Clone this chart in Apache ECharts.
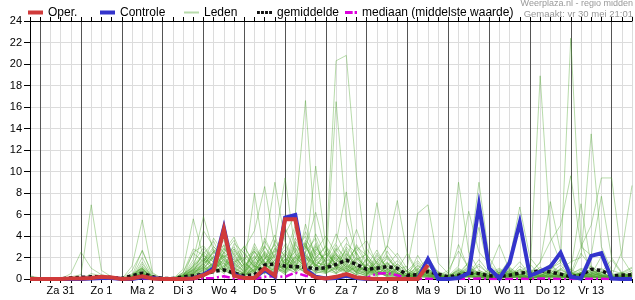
<!DOCTYPE html>
<html><head><meta charset="utf-8">
<script src="https://cdn.jsdelivr.net/npm/echarts@6/dist/echarts.min.js"></script>
<style>html,body{margin:0;padding:0;background:#fff}#c{width:635px;height:300px}</style>
</head><body><div id="c"></div>
<script>
// time axis: hours since 30 mei 00:00, one value every 6 hours
const startHour = 18;
const stepHours = 6;
const endHour = 372;
const dayLabels = ['Za 31','Zo 1','Ma 2','Di 3','Wo 4','Do 5','Vr 6','Za 7','Zo 8','Ma 9','Di 10','Wo 11','Do 12','Vr 13'];
const firstLabelHour = 36;

const oper = [0, 0,0,0,0.05, 0.05,0.1,0.2,0.15, 0,0.05,0.25,0.05, 0,0,0,0.05, 0.35,0.8,4.6,0.3, 0.1,0.1,1.0,0.3, 5.55,5.55,0.7,0.15, 0.05,0.2,0.45,0.15, 0.05,0,0,0, 0,0,1.3,null, null,null,null,null, null,null,null,null, null,null,null,null, null,null,null,null, null,null,null];
const controle = [0, 0,0,0,0, 0,0.05,0.1,0.1, 0,0,0.15,0.1, 0,0,0,0.05, 0.4,1.0,4.75,0.4, 0.1,0.1,0.85,0.2, 5.7,5.95,0.9,0.2, 0.05,0.1,0.3,0.1, 0,0,0,0, 0,0,1.85,0, 0,0.1,0.55,6.85, 1.0,0.05,1.5,5.25, 0.3,0.7,1.15,2.45, 0.2,0.05,2.15,2.4, 0.05,0,0];
const gemiddelde = [0.05, 0.02,0.02,0.02,0.1, 0.15,0.2,0.2,0.15, 0.05,0.3,0.55,0.2, 0.05,0.05,0.2,0.3, 0.45,0.7,0.85,0.55, 0.3,0.4,1.3,1.4, 1.2,1.15,1.1,0.95, 1.05,1.35,1.75,1.35, 0.9,1.0,1.15,1.0, 0.35,0.4,0.7,0.45, 0.2,0.35,0.55,0.5, 0.3,0.25,0.35,0.55, 0.6,0.8,0.65,0.45, 0.2,0.35,0.9,0.8, 0.3,0.35,0.4];
const mediaan = [0, 0,0,0,0, 0,0,0,0, 0,0,0.02,0, 0,0,0,0, 0.05,0.1,0.25,0.05, 0,0,0.2,0.25, 0.2,0.6,0.3,0.15, 0.1,0.2,0.5,0.2, 0.1,0.5,0.55,0.35, 0.05,0,0.02,0, 0,0,0.02,0.05, 0,0,0,0.02, 0,0.05,0.02,0, 0,0,0.03,0.02, 0,0,0];

const leden01 = [0, 0,0,0,0, 0,0,0.1,0, 0,0,0.3,0, 0,0,0,0.4, 0.8,1.5,2.2,0.6, 0.3,1.2,2.5,1.1, 0.4,2.0,3.1,1.2, 2.4,20.3,20.8,9.6, 2.0,0.5,2.1,0.8, 0.2,0.6,0.3,0, 0,0.4,1.2,0.3, 0.1,0,0.5,0.2, 0,0.3,0.8,0.2, 0,0.6,0.4,0.1, 0,0.2,0.3];
const leden02 = [0, 0,0,0,0, 0,0.2,0,0, 0,0.5,1.0,0.1, 0,0,0.2,0.8, 1.6,2.5,1.8,0.9, 0.5,3.0,1.5,2.2, 4.2,6.0,16.6,3.5, 1.0,2.2,1.5,0.6, 0.3,0.8,0.2,0, 0,0.3,0.9,0.4, 0,0,0.2,0.6, 0.3,0,0,0.4, 0.9,0.2,0,0, 0.3,0.5,0.1,0, 0,0,0.4];
const leden03 = [0, 0,0,0,0, 0,0,0.3,0.1, 0,0.2,0.6,0, 0,0,0.4,1.2, 2.0,1.1,0.8,0.3, 0.6,1.8,3.5,2.0, 1.0,2.6,4.0,1.5, 1.3,16.5,5.5,2.2, 0.8,1.5,0.6,0.2, 0,0.5,0.2,0, 0.2,1.0,0.4,0, 0,0.3,0.8,0.2, 0,0.1,0.5,1.3, 0.2,0,0.3,0.6, 0.2,0,0];
const leden04 = [0, 0,0,0,0, 0,0,0,0.1, 0,0.3,0.4,0, 0,0,0,0.6, 1.2,2.6,3.1,1.0, 0.5,0.8,1.9,3.2, 2.1,1.0,2.5,3.8, 1.4,0.9,2.3,1.5, 0.6,1.2,0.4,0.1, 0,0.2,0.6,0.3, 0,0.2,0.6,0.4, 0.1,0,0.3,0.9, 0.6,0.3,1.0,1.5, 22.4,3.5,0.5,0.3, 0.1,0.4,0.8];
const leden05 = [0, 0,0,0,0, 0,0,0,0, 0,0.1,0.5,0, 0,0,0.3,0.5, 0.9,1.4,2.0,2.8, 1.2,0.6,2.3,1.0, 0.7,3.2,2.0,1.1, 0.8,1.6,3.3,2.4, 1.1,0.5,1.5,0.6, 0.2,0.8,0.3,0.1, 0,0.6,0.3,0.2, 0.5,1.0,0.4,0.2, 0.3,18.9,4.0,1.5, 0.6,0.2,0.8,0.4, 0,0.3,0.2];
const leden06 = [0, 0,0,0,0, 0,0,0,0, 0,0,0.3,0, 0,0,0,0.3, 0.6,1.0,1.5,0.5, 0.2,1.4,0.7,2.8, 1.5,0.8,1.8,4.2, 2.2,1.0,0.6,1.8, 0.9,0.3,1.2,0.5, 0,0.4,1.0,0.2, 0,0.3,0.2,0.8, 0.4,0,0.2,1.2, 0.5,0.2,0.4,0.9, 1.6,2.0,13.5,3.0, 0.8,0.5,1.0];
const leden07 = [0, 0,0,0,0, 0,0,0.1,0, 0,0.2,0.9,0.1, 0,0,0.3,0.9, 1.9,0.8,2.4,1.3, 0.7,2.6,1.4,0.5, 1.9,1.2,3.3,0.9, 0.6,2.8,1.2,0.7, 1.8,0.6,0.4,1.1, 0.3,0.2,0.7,0.4, 0.2,0.8,0.3,0.1, 0.3,0.6,1.1,0.4, 0.2,0.5,0.9,1.8, 0.5,3.0,5.0,9.4, 9.4,2.0,0.5];
const leden08 = [0, 0,0,0,0, 0,0,0,0, 0,0.2,0.8,0, 0,0,0.2,0.7, 1.0,2.2,0.9,0.4, 0.3,0.7,1.6,0.5, 2.4,1.3,0.6,2.0, 3.0,1.2,0.8,0.4, 1.5,0.6,0.3,0.1, 0.2,1.3,0.5,0.2, 0.6,9.0,2.5,0.8, 0.3,0.1,0.4,0.2, 0.9,0.5,0.2,0.1, 0.2,0.6,0.4,1.0, 0.3,2.5,8.7];
const leden09 = [0, 0,0,0,0, 0,0,0,0, 0,0,0.4,0.1, 0,0,0,0.2, 0.5,0.9,2.5,1.8, 0.6,2.2,1.3,0.8, 1.2,3.5,2.4,10.5, 3.0,1.1,0.7,2.5, 0.6,0.2,0.9,0.4, 0.1,0.3,0.8,0.2, 0,0.4,1.5,9.0, 2.0,0.4,0.2,0.5, 0.2,0.8,0.3,0.1, 0.4,1.0,0.6,0.2, 0,0.3,0.1];
const leden10 = [0, 0,0,0,0.2, 0.4,6.9,0.8,0.2, 0,0.1,0.6,0, 0,0,0.1,0.5, 1.1,0.6,1.9,0.8, 0.3,0.9,2.6,1.4, 0.8,1.9,4.4,2.2, 1.0,0.6,1.4,0.7, 0.3,1.7,0.8,0.2, 0,0.2,0.5,0.1, 0,0.1,0.3,0.2, 0,0.4,0.7,0.2, 0.1,0.3,0.6,0.2, 0,0.2,0.5,0.3, 0.1,0.2,0.1];
const leden11 = [0, 0,0,0,0.5, 2.5,1.0,0.4,0.2, 0,1.2,5.5,0.6, 0,0,0.4,1.0, 2.3,3.5,1.5,0.7, 0.4,1.2,0.8,3.6, 2.0,0.9,1.4,0.6, 0.7,2.6,3.9,1.3, 0.5,0.9,2.6,1.2, 0.3,0.5,1.2,0.3, 0.1,0.2,0.6,0.4, 0.2,0.1,0.3,0.7, 0.3,0.9,0.4,0.2, 0.3,0.6,0.3,0.1, 0,0.2,0.4];
const leden12 = [0.3, 0.1,0,0,0, 0,0.3,0.1,0, 0,0.3,2.7,0.3, 0,0,0.9,5.6, 2.0,1.1,3.2,1.5, 0.8,0.4,1.3,2.5, 4.8,2.4,1.0,0.5, 0.9,3.2,1.6,0.8, 0.4,1.2,3.1,2.0, 0.6,1.5,0.4,0.2, 0,0.6,0.2,0.1, 0.3,0.8,0.4,0.1, 0,0.4,1.1,0.5, 0.2,0.1,0.4,0.6, 0.2,0,0.3];
const leden13 = [0, 0,0,0,0, 0,0,0.2,0.1, 0,0.2,2.0,0.2, 0,0,0.3,1.8, 5.8,2.5,1.2,2.8, 1.5,0.6,3.8,1.9, 0.7,1.6,2.9,6.2, 2.5,1.4,0.9,1.9, 1.1,0.4,0.8,0.3, 0.2,0.6,1.8,0.4, 0.1,0.2,0.8,0.3, 0.2,0.5,0.2,0.6, 1.4,0.3,0.2,0.4, 0.6,0.3,0.2,0.1, 0,0.1,0.2];
const leden14 = [0, 0,0,0,0, 0,0,0.1,0, 0,0.1,1.6,0.1, 0,0,0.2,2.5, 3.1,1.8,0.6,1.2, 2.8,4.5,8.6,3.0, 1.2,0.8,2.2,1.4, 0.6,1.1,2.8,0.9, 0.4,2.2,1.0,0.5, 0.3,0.2,0.7,0.3, 0,0.4,0.9,0.5, 0.2,0.3,0.1,0.2, 0.5,0.2,0.8,0.3, 0.1,0.4,0.9,0.2, 0.1,0.3,0.5];
const leden15 = [0, 0,0,0,0, 0,0,0,0, 0,0,1.2,0.2, 0,0,0.5,1.1, 4.5,3.0,2.0,1.0, 0.5,1.5,2.9,9.0, 3.5,1.4,0.8,1.7, 2.3,1.5,0.6,1.2, 0.8,0.3,1.4,0.6, 0.1,0.4,0.2,0.1, 0.2,0.9,0.4,0.2, 0.6,0.2,0.4,0.9, 0.3,0.5,0.2,0.1, 0.2,0.6,1.2,0.4, 0.2,0.1,0.6];
const leden16 = [0, 0,0,0,0, 0,0.1,0,0, 0,0.4,1.0,0, 0,0,0.1,0.4, 1.5,3.8,2.4,3.6, 1.2,8.0,2.0,1.1, 0.6,3.4,1.5,0.9, 1.8,4.2,2.1,0.5, 2.8,1.5,0.6,0.3, 0,0.7,0.3,0.1, 0.1,0.3,0.2,0.7, 0.2,0.1,0.5,0.3, 0.1,0.2,0.4,0.8, 0.5,0.2,0.3,0.1, 0,0.4,0.2];
const leden17 = [0, 0,0,0,0, 0,0,0,0, 0,0,0.8,0, 0,0,0,0.3, 0.7,1.3,2.8,2.0, 1.1,2.5,1.2,3.4, 9.4,2.6,1.1,3.0, 1.6,0.8,1.7,2.9, 1.4,0.6,0.3,1.0, 0.4,0.1,0.6,0.2, 0,0.5,0.3,0.1, 0.3,0.7,0.2,0.4, 0.2,0.1,0.6,0.2, 0.3,0.2,0.5,0.7, 0.1,0.2,0.1];
const leden18 = [0, 0,0,0,0, 0,0,0,0, 0,0,0.6,0.1, 0,0,0.3,0.9, 1.8,0.8,1.0,3.3, 2.4,1.0,0.5,1.5, 3.2,1.2,2.4,1.0, 0.8,2.0,1.1,3.2, 1.6,7.1,2.0,0.9, 1.2,6.1,6.9,1.5, 0.5,0.2,0.4,0.3, 0.1,0.3,0.6,0.2, 0,0.2,0.3,0.6, 0.4,0.1,0.2,0.3, 0.2,0.5,0.3];
const leden19 = [0, 0,0,0,0, 0,0,0,0, 0,0,0.3,0, 0,0,0,0.5, 1.0,2.0,0.9,0.6, 1.4,0.8,2.0,0.9, 1.3,4.6,3.0,1.8, 0.9,1.5,2.4,1.0, 0.8,1.6,3.0,7.3, 2.2,0.5,0.3,0.6, 0.2,0.1,0.3,0.2, 0,0.3,0.7,0.2, 0.1,0.4,0.2,0.3, 0.2,0.6,0.2,0.1, 0,0.2,0.3];
const leden20 = [0, 0,0,0,0, 0,0,0,0, 0,0.1,0.9,0.2, 0,0,0.2,0.6, 2.6,1.5,3.9,2.2, 1.0,0.5,1.2,2.1, 1.5,0.9,3.6,2.5, 1.9,3.4,8.1,2.0, 1.0,0.4,1.2,0.8, 0.5,0.2,0.9,0.3, 0.8,2.6,1.0,0.3, 0.1,0.6,0.2,0.1, 0.3,0.7,0.3,0.2, 0.6,0.3,0.1,0.2, 0.3,0.6,0.2];
const leden21 = [0, 0,0,0,0, 0,0,0,0, 0,0,0.4,0, 0,0,0.1,0.3, 0.9,2.1,1.4,0.5, 0.3,1.0,2.4,1.2, 0.6,1.3,0.7,2.4, 1.2,0.6,1.5,3.0, 2.2,1.1,0.5,1.4, 0.6,0.3,1.3,0.7, 0.3,1.2,6.3,2.5, 1.4,0.5,1.8,6.7, 2.0,0.8,0.3,0.2, 0.5,0.9,0.4,0.2, 0.1,0.3,0.2];
const leden22 = [0, 0,0,0,0, 0,0,0,0, 0,0,0.5,0, 0,0,0.2,0.8, 1.3,0.7,2.2,1.6, 2.0,1.2,0.6,1.8, 2.7,1.5,3.0,1.2, 0.5,1.2,0.7,1.6, 0.6,2.4,1.0,0.3, 0.2,0.5,0.2,0.1, 0.2,0.4,0.3,0.6, 0.3,0.2,1.0,0.4, 0.6,1.5,7.2,2.5, 0.8,7.0,1.2,0.4, 0.3,0.6,0.3];
const leden23 = [0, 0,0,0,0, 0,0,0,0, 0,0,0.2,0, 0,0,0,0.2, 0.4,1.0,1.8,0.7, 0.4,2.0,1.1,0.6, 1.8,0.7,1.6,3.1, 1.4,0.5,1.0,0.6, 1.3,0.7,0.2,0.5, 0.2,0.1,0.4,0.2, 0.1,0.2,0.5,1.4, 0.4,0.2,0.3,0.8, 0.4,1.6,3.5,5.0, 9.6,3.0,2.2,7.7, 2.0,0.6,1.1];
const leden24 = [0, 0,0,0,0, 0,0,0,0, 0,0.2,1.0,0.1, 0,0,0.6,2.8, 2.2,1.6,0.7,1.4, 3.1,1.2,0.9,0.5, 1.1,2.9,1.3,0.7, 0.5,1.0,1.9,4.6, 2.0,0.8,0.4,0.9, 2.4,0.7,0.3,0.1, 0.4,3.2,0.9,4.8, 0.7,0.2,0.1,0.3, 0.2,0.1,0.2,0.9, 0.3,2.4,1.1,0.2, 0.1,0.3,0.6];
const leden25 = [0.2, 0,0,0,0, 0,0.5,0.3,0, 0,0.8,2.6,0.5, 0,0,0.6,2.4, 1.6,2.8,0.8,0.4, 0.6,1.6,0.9,2.3, 1.1,0.6,2.0,1.3, 0.9,2.2,1.3,0.7, 1.9,0.9,1.6,0.4, 0.3,0.9,2.0,0.6, 0.2,0.1,0.6,1.2, 0.5,0.2,0.9,0.4, 0.2,0.1,0.3,0.5, 0.2,0.3,0.7,0.3, 0.1,0.2,0.4];
const leden26 = [0, 0,0,0,0, 0,0,0,0, 0,0,0.7,0, 0,0,0,1.2, 2.2,1.2,0.5,1.9, 0.9,2.8,1.6,0.8, 2.2,5.0,2.0,0.7, 1.1,2.0,0.6,1.1, 0.4,1.0,1.9,0.9, 0.1,0.3,0.1,0, 0,0.3,0.8,0.3, 0.9,3.2,0.8,0.2, 0.1,0.3,0.2,0.4, 0.3,0.1,0.2,0.6, 1.8,0.5,0.2];
const leden27 = [0, 0,0,0,0, 0,0.2,0.1,0, 0,0,0.5,0.1, 0,0,0.4,0.8, 1.4,2.4,3.6,1.1, 0.6,0.3,0.9,1.6, 0.8,2.1,1.0,2.6, 4.0,2.3,1.0,0.4, 0.2,0.6,0.3,0.8, 0.2,2.2,0.6,0.2, 0.3,0.6,0.2,0.1, 0.2,0.1,0.6,0.3, 0.8,0.3,0.9,2.3, 0.6,0.2,0.4,2.1, 0.5,0.3,0.2];
const leden28 = [0, 0,0,0,0, 0,0,0,0, 0,0,0.2,0, 0,0,0,0.1, 0.3,0.7,1.2,0.4, 0.2,0.9,0.5,1.0, 0.5,1.2,0.6,1.4, 0.8,0.5,1.2,0.6, 0.3,0.8,0.4,0.2, 0,0.2,0.1,0, 0,0.1,0.2,0.1, 0,0.2,0.1,0.3, 0.1,0.2,0.1,0.2, 0.1,0.3,0.1,0.2, 0,0.1,0.1];
const leden29 = [0, 0,0,0,0, 0,0,0,0, 0,0,1.4,0.2, 0,0,0.1,0.6, 1.1,0.5,2.6,3.9, 1.7,0.6,1.8,4.1, 1.0,0.6,1.2,0.6, 2.0,1.0,0.4,1.5, 0.5,1.2,0.6,0.2, 0.5,1.0,0.4,0.1, 0.2,0.4,1.1,0.5, 0.3,0.6,0.3,0.1, 0.2,0.5,1.3,0.6, 0.3,0.2,0.1,0.3, 0.2,0.1,0.4];
const leden30 = [0, 0,0,0,0, 0,0,0,0, 0,0,0.3,0, 0,0,0,0.2, 0.6,1.6,0.7,2.4, 0.8,3.3,1.4,0.7, 1.6,0.8,5.1,2.0, 0.6,1.8,0.9,0.4, 0.8,0.4,0.6,1.4, 0.6,0.2,0.3,0.1, 0,0.2,0.4,0.2, 0.1,0.3,0.5,0.2, 0.1,0.2,0.1,0.3, 0.2,0.4,0.2,0.1, 0.1,0.2,0.1];
const leden31 = [0, 0,0,0,0, 0,0,0,0, 0,0.3,1.1,0.2, 0,0,0.3,1.5, 2.9,1.7,0.9,2.6, 1.3,2.1,0.6,1.8, 0.9,1.7,3.3,1.1, 2.6,1.2,2.0,0.8, 1.2,2.7,0.9,0.5, 0.3,0.9,0.4,0.2, 0.1,0.5,1.6,0.4, 0.2,0.9,0.3,0.1, 0.2,0.6,1.4,0.3, 0.1,0.2,0.6,0.3, 0.2,0.1,0.3];
const leden32 = [0, 0,0,0,0, 0,0,0.2,0, 0,0,0.9,0, 0,0,0.2,0.9, 1.7,3.0,2.1,0.9, 2.5,1.1,3.0,1.7, 0.6,2.3,1.4,3.3, 1.0,2.4,1.5,2.6, 3.6,1.3,0.7,0.4, 0.8,1.7,0.6,0.3, 0.2,0.3,0.5,1.8, 0.6,0.3,0.1,0.2, 0.4,0.2,0.6,0.3, 0.9,0.3,0.2,0.4, 0.1,0.5,0.2];
const leden33 = [0, 0,0,0,0, 0,0,0,0, 0,0,0.5,0, 0,0,0.1,0.7, 1.2,2.6,2.0,3.0, 1.6,0.7,1.9,2.6, 1.4,3.8,2.2,1.3, 0.7,2.9,2.0,1.1, 0.6,1.9,1.2,2.4, 0.9,0.4,0.8,0.2, 0.3,0.8,0.3,0.6, 0.2,0.4,0.2,0.1, 0.3,1.1,0.5,0.2, 0.1,0.5,0.9,0.3, 0.1,0.2,0.3];
const leden34 = [0, 0,0,0,0, 0,0,0,0, 0,0.1,0.6,0, 0,0,0,0.4, 0.8,1.2,2.9,1.4, 0.7,1.8,3.1,1.3, 2.5,1.1,0.6,1.9, 3.1,1.7,2.6,0.9, 0.5,1.1,2.2,1.0, 0.4,1.2,0.5,0.1, 0.4,0.2,0.7,0.3, 0.8,0.3,0.6,1.6, 0.4,0.2,0.9,0.5, 0.2,0.8,0.3,0.2, 0.4,0.2,0.1];
const leden35 = [0, 0,0,0,0, 0,0,0,0, 0,0,0.4,0.1, 0,0,0.2,1.3, 2.4,0.9,1.7,0.8, 1.9,2.6,1.1,2.9, 1.7,2.5,3.4,1.6, 1.2,0.8,3.0,1.8, 2.3,0.8,1.5,0.6, 0.2,0.6,1.5,0.4, 0.2,0.7,0.4,0.2, 0.1,0.2,0.8,0.4, 0.7,0.3,0.2,1.0, 0.4,0.2,0.6,0.9, 0.3,0.1,0.2];
const leden36 = [0, 0,0,0,0, 0,0,0,0, 0,0,0.6,0, 0,0,0.1,0.5, 1.5,2.0,1.1,2.1, 3.0,1.4,2.2,0.8, 1.3,2.0,1.1,2.8, 1.6,2.3,1.0,2.0, 1.1,0.5,0.9,1.7, 0.7,0.3,0.2,0.5, 0.1,0.3,1.0,0.6, 0.3,0.1,0.4,0.2, 0.5,0.9,0.3,0.1, 0.6,0.2,0.3,0.5, 0.2,0.4,0.3];
const leden = [leden01,leden02,leden03,leden04,leden05,leden06,leden07,leden08,leden09,leden10,leden11,leden12,leden13,leden14,leden15,leden16,leden17,leden18,leden19,leden20,leden21,leden22,leden23,leden24,leden25,leden26,leden27,leden28,leden29,leden30,leden31,leden32,leden33,leden34,leden35,leden36];

function xy(arr){ return arr.map((v,i)=>[startHour + i*stepHours, v]); }

const FONT = '"Liberation Sans", Arial, sans-serif';
const series = [];
leden.forEach(m => series.push({
  name:'Leden', type:'line', data: xy(m), showSymbol:false, symbol:'none',
  color:'rgba(78,165,45,0.4)', lineStyle:{width:1}, z:1, silent:true
}));
series.push({name:'mediaan (middelste waarde)', type:'line', data: xy(mediaan), symbol:'none', color:'#dd00dd',
  lineStyle:{width:2.5, type:[8,3,2,3]}, z:3});
series.push({name:'gemiddelde', type:'line', data: xy(gemiddelde), symbol:'none', color:'#111',
  lineStyle:{width:3.5, type:[3.5,3], cap:'butt'}, z:4});
series.push({name:'Controle', type:'line', data: xy(controle), symbol:'none', color:'#3434cc',
  lineStyle:{width:4, join:'miter'}, z:5});
series.push({name:'Oper.', type:'line', data: xy(oper), symbol:'none', color:'#d03a3a',
  lineStyle:{width:4, join:'miter'}, z:6});

function legendItem(name, left, icon, w, h){
  return {data:[name], left:left, top:6.5, icon:icon, itemWidth:w, itemHeight:h, padding:0,
    selectedMode:false, itemStyle:{borderWidth:0}, textStyle:{fontSize:12, color:'#000', fontFamily:FONT}};
}
const smallText = {fontWeight:'normal', color:'#999', fontFamily:FONT};

const chart = echarts.init(document.getElementById('c'), null, {renderer:'canvas'});
chart.setOption({
  animation:false,
  backgroundColor:'#fff',
  title:[
    {text:'Weerplaza.nl - regio midden', right:2, top:-1, padding:0, textStyle:Object.assign({fontSize:9}, smallText)},
    {text:'Gemaakt: vr 30 mei 21:01', right:2, top:9, padding:0, textStyle:Object.assign({fontSize:9.5}, smallText)}
  ],
  legend:[
    legendItem('Oper.', 28, 'rect', 15, 4),
    legendItem('Controle', 100, 'rect', 15, 4),
    legendItem('Leden', 184, 'rect', 15, 2),
    legendItem('gemiddelde', 257, 'path://M0,0h3v3h-3z M4.2,0h3v3h-3z M8.4,0h3v3h-3z M12.6,0h3v3h-3z', 15, 3.5),
    legendItem('mediaan (middelste waarde)', 345, 'path://M0,0h8v3h-8z M10,0h2.5v3h-2.5z', 12, 3)
  ],
  grid:{left:30, right:1.5, top:21, bottom:21, containLabel:false},
  xAxis:[
    {type:'value', min:startHour, max:endHour, interval:stepHours, position:'bottom',
     axisLine:{show:true, onZero:false, lineStyle:{color:'#000', width:1}},
     axisTick:{show:true, length:4, lineStyle:{color:'#000'}},
     axisLabel:{color:'#000', fontSize:11, fontFamily:FONT, margin:6,
       formatter:v => { const k = (v - firstLabelHour)/24; return (Number.isInteger(k) && k>=0 && k<dayLabels.length) ? dayLabels[k] : ''; }},
     splitLine:{show:true, lineStyle:{color:['#dcdcdc','#555555','#dcdcdc','#dcdcdc'], width:1}}},
    {type:'value', min:startHour, max:endHour, interval:stepHours, position:'top',
     axisLine:{show:true, onZero:false, lineStyle:{color:'#000', width:1}},
     axisTick:{show:true, length:4, lineStyle:{color:'#000'}},
     axisLabel:{show:false}, splitLine:{show:false}}
  ],
  yAxis:{type:'value', min:0, max:24, interval:2,
    axisLine:{show:true, lineStyle:{color:'#000'}},
    axisTick:{show:true, length:6, lineStyle:{color:'#000'}},
    axisLabel:{color:'#000', fontSize:11, fontFamily:FONT, margin:8},
    splitLine:{show:true, lineStyle:{color:'#dcdcdc', width:1}}},
  series: series
});
</script></body></html>
